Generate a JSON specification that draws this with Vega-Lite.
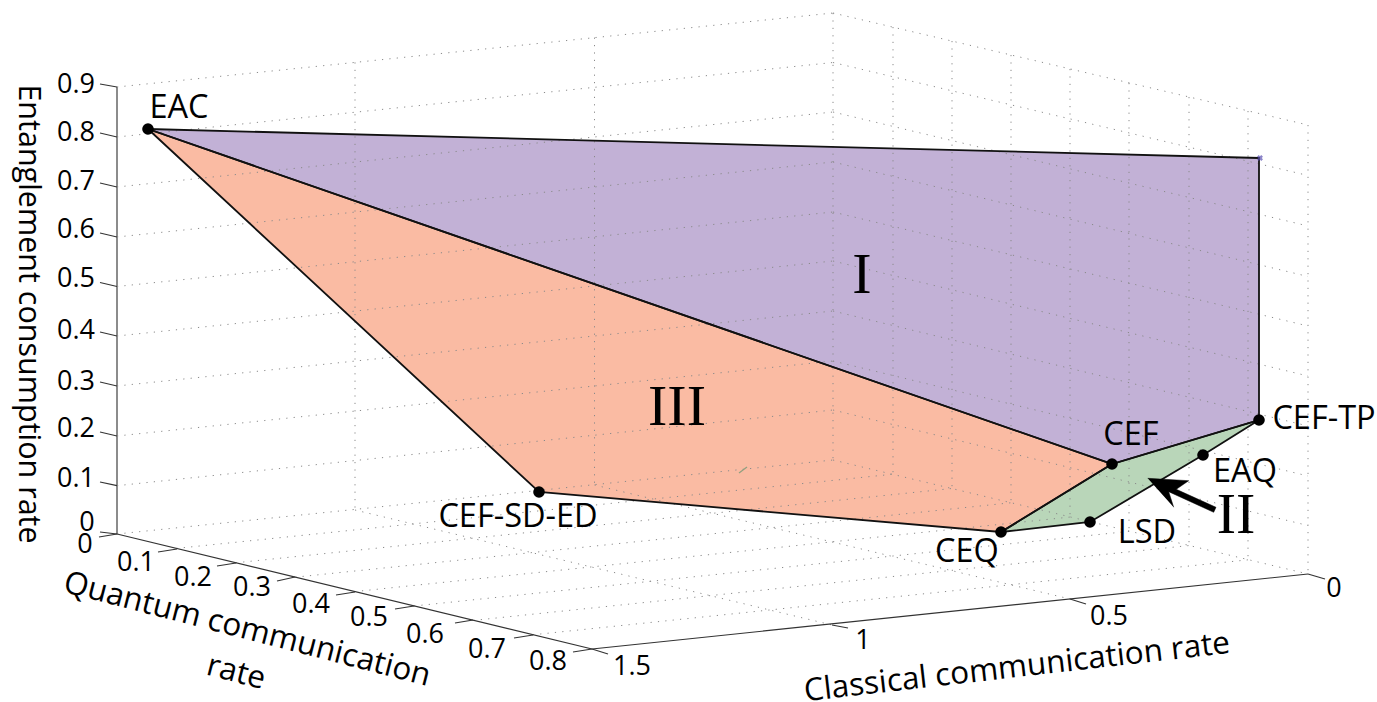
{"$schema":"https://vega.github.io/schema/vega-lite/v6.json","width":1377,"height":702,"padding":0,"autosize":{"type":"none"},"background":"white","config":{"view":{"stroke":null}},
"datasets":{
"regions":[
{"region":"I","i":0,"sx":148,"sy":129},{"region":"I","i":1,"sx":1259,"sy":158},{"region":"I","i":2,"sx":1259,"sy":420},{"region":"I","i":3,"sx":1112,"sy":464},{"region":"I","i":4,"sx":148,"sy":129},
{"region":"III","i":0,"sx":148,"sy":129},{"region":"III","i":1,"sx":1112,"sy":464},{"region":"III","i":2,"sx":1001,"sy":532},{"region":"III","i":3,"sx":539,"sy":492},{"region":"III","i":4,"sx":148,"sy":129},
{"region":"II","i":0,"sx":1112,"sy":464},{"region":"II","i":1,"sx":1259,"sy":420},{"region":"II","i":2,"sx":1203,"sy":455},{"region":"II","i":3,"sx":1090,"sy":522},{"region":"II","i":4,"sx":1001,"sy":532},{"region":"II","i":5,"sx":1112,"sy":464}],
"grid":[
{"g":"L0","i":0,"sx":117,"sy":534},{"g":"L0","i":1,"sx":833,"sy":460},{"g":"L1","i":0,"sx":117,"sy":485.7},{"g":"L1","i":1,"sx":833,"sy":410},{"g":"L2","i":0,"sx":117,"sy":436},{"g":"L2","i":1,"sx":833,"sy":361},{"g":"L3","i":0,"sx":117,"sy":386},{"g":"L3","i":1,"sx":833,"sy":311},{"g":"L4","i":0,"sx":117,"sy":336},{"g":"L4","i":1,"sx":833,"sy":261},{"g":"L5","i":0,"sx":117,"sy":286.5},{"g":"L5","i":1,"sx":833,"sy":212},{"g":"L6","i":0,"sx":117,"sy":237},{"g":"L6","i":1,"sx":833,"sy":162},{"g":"L7","i":0,"sx":117,"sy":187},{"g":"L7","i":1,"sx":833,"sy":112},{"g":"L8","i":0,"sx":117,"sy":137},{"g":"L8","i":1,"sx":833,"sy":62.5},{"g":"L9","i":0,"sx":117,"sy":87},{"g":"L9","i":1,"sx":833,"sy":13},
{"g":"R0","i":0,"sx":833,"sy":460},{"g":"R0","i":1,"sx":1308,"sy":574},{"g":"R1","i":0,"sx":833,"sy":410},{"g":"R1","i":1,"sx":1308,"sy":525.5},{"g":"R2","i":0,"sx":833,"sy":361},{"g":"R2","i":1,"sx":1308,"sy":476},{"g":"R3","i":0,"sx":833,"sy":311},{"g":"R3","i":1,"sx":1308,"sy":426},{"g":"R4","i":0,"sx":833,"sy":261},{"g":"R4","i":1,"sx":1308,"sy":376},{"g":"R5","i":0,"sx":833,"sy":212},{"g":"R5","i":1,"sx":1308,"sy":326},{"g":"R6","i":0,"sx":833,"sy":162},{"g":"R6","i":1,"sx":1308,"sy":276.5},{"g":"R7","i":0,"sx":833,"sy":112},{"g":"R7","i":1,"sx":1308,"sy":226},{"g":"R8","i":0,"sx":833,"sy":62.5},{"g":"R8","i":1,"sx":1308,"sy":175.5},{"g":"R9","i":0,"sx":833,"sy":13},{"g":"R9","i":1,"sx":1308,"sy":125},
{"g":"V1","i":0,"sx":355,"sy":62.4},{"g":"V1","i":1,"sx":355,"sy":510},{"g":"V2","i":0,"sx":594.5,"sy":37.6},{"g":"V2","i":1,"sx":594.5,"sy":485},{"g":"V3","i":0,"sx":833,"sy":13},{"g":"V3","i":1,"sx":833,"sy":460},
{"g":"W1","i":0,"sx":893,"sy":27},{"g":"W1","i":1,"sx":893,"sy":474},{"g":"W2","i":0,"sx":952,"sy":41},{"g":"W2","i":1,"sx":952,"sy":488.5},{"g":"W3","i":0,"sx":1011,"sy":55},{"g":"W3","i":1,"sx":1011,"sy":503},{"g":"W4","i":0,"sx":1070,"sy":69},{"g":"W4","i":1,"sx":1070,"sy":517},{"g":"W5","i":0,"sx":1129,"sy":83},{"g":"W5","i":1,"sx":1129,"sy":531},{"g":"W6","i":0,"sx":1189,"sy":97},{"g":"W6","i":1,"sx":1189,"sy":545.5},{"g":"W7","i":0,"sx":1248,"sy":111},{"g":"W7","i":1,"sx":1248,"sy":560},{"g":"W8","i":0,"sx":1308,"sy":125},{"g":"W8","i":1,"sx":1308,"sy":574},
{"g":"F1","i":0,"sx":176.4,"sy":548.4},{"g":"F1","i":1,"sx":892.4,"sy":474.25},{"g":"F2","i":0,"sx":235.8,"sy":562.8},{"g":"F2","i":1,"sx":951.8,"sy":488.5},{"g":"F3","i":0,"sx":295.2,"sy":577.2},{"g":"F3","i":1,"sx":1011.2,"sy":502.75},{"g":"F4","i":0,"sx":354.6,"sy":591.6},{"g":"F4","i":1,"sx":1070.6,"sy":517},{"g":"F5","i":0,"sx":414,"sy":606},{"g":"F5","i":1,"sx":1130,"sy":531.25},{"g":"F6","i":0,"sx":473.4,"sy":620.4},{"g":"F6","i":1,"sx":1189.4,"sy":545.5},{"g":"F7","i":0,"sx":532.8,"sy":634.8},{"g":"F7","i":1,"sx":1248.8,"sy":559.75},
{"g":"C1","i":0,"sx":355,"sy":510},{"g":"C1","i":1,"sx":832,"sy":625},{"g":"C2","i":0,"sx":594.5,"sy":485},{"g":"C2","i":1,"sx":1070,"sy":599}],
"axes":[
{"g":"q","i":0,"sx":117,"sy":534},{"g":"q","i":1,"sx":592,"sy":649},{"g":"c","i":0,"sx":592,"sy":649},{"g":"c","i":1,"sx":1308,"sy":574},
{"g":"z0","i":0,"sx":100,"sy":532},{"g":"z0","i":1,"sx":117,"sy":534},{"g":"z1","i":0,"sx":100,"sy":482},{"g":"z1","i":1,"sx":117,"sy":485.7},{"g":"z2","i":0,"sx":100,"sy":432},{"g":"z2","i":1,"sx":117,"sy":436},{"g":"z3","i":0,"sx":100,"sy":382},{"g":"z3","i":1,"sx":117,"sy":386},{"g":"z4","i":0,"sx":100,"sy":332},{"g":"z4","i":1,"sx":117,"sy":336},{"g":"z5","i":0,"sx":100,"sy":282.5},{"g":"z5","i":1,"sx":117,"sy":286.5},{"g":"z6","i":0,"sx":100,"sy":233},{"g":"z6","i":1,"sx":117,"sy":237},{"g":"z7","i":0,"sx":100,"sy":183},{"g":"z7","i":1,"sx":117,"sy":187},{"g":"z8","i":0,"sx":100,"sy":133},{"g":"z8","i":1,"sx":117,"sy":137},{"g":"z9","i":0,"sx":100,"sy":84},{"g":"z9","i":1,"sx":117,"sy":87},
{"g":"q0","i":0,"sx":99,"sy":537},{"g":"q0","i":1,"sx":117,"sy":534},{"g":"q1","i":0,"sx":158,"sy":552},{"g":"q1","i":1,"sx":177,"sy":549},{"g":"q2","i":0,"sx":217,"sy":566},{"g":"q2","i":1,"sx":236,"sy":563},{"g":"q3","i":0,"sx":277,"sy":581},{"g":"q3","i":1,"sx":295,"sy":577},{"g":"q4","i":0,"sx":336,"sy":595},{"g":"q4","i":1,"sx":355,"sy":592},{"g":"q5","i":0,"sx":395,"sy":609},{"g":"q5","i":1,"sx":414,"sy":606},{"g":"q6","i":0,"sx":455,"sy":623},{"g":"q6","i":1,"sx":473,"sy":620},{"g":"q7","i":0,"sx":514,"sy":638},{"g":"q7","i":1,"sx":533,"sy":635},{"g":"q8","i":0,"sx":573,"sy":652},{"g":"q8","i":1,"sx":592,"sy":649},
{"g":"c0","i":0,"sx":592,"sy":649},{"g":"c0","i":1,"sx":608,"sy":654},{"g":"c1","i":0,"sx":832,"sy":625},{"g":"c1","i":1,"sx":848,"sy":628},{"g":"c2","i":0,"sx":1070,"sy":599},{"g":"c2","i":1,"sx":1086,"sy":604},{"g":"c3","i":0,"sx":1308,"sy":574},{"g":"c3","i":1,"sx":1325,"sy":579}],
"zaxis":[{"i":0,"sx":117,"sy":87},{"i":1,"sx":117,"sy":534}],
"scratch":[{"i":0,"sx":739,"sy":473},{"i":1,"sx":747,"sy":467}],
"arrow":[{"i":0,"sx":1147.7,"sy":478.3},{"i":1,"sx":1188.7,"sy":480.7},{"i":2,"sx":1176.3,"sy":489.3},{"i":3,"sx":1216,"sy":507.3},{"i":4,"sx":1213.7,"sy":512.3},{"i":5,"sx":1168.7,"sy":491.7},{"i":6,"sx":1173.7,"sy":507.3}],
"points":[{"name":"EAC","sx":148,"sy":129},{"name":"CEF-SD-ED","sx":539,"sy":492},{"name":"CEQ","sx":1001,"sy":532},{"name":"LSD","sx":1090,"sy":522},{"name":"EAQ","sx":1203,"sy":455},{"name":"CEF","sx":1112,"sy":464},{"name":"CEF-TP","sx":1259,"sy":420}],
"labels":[{"t":"EAC","sx":179,"sy":108},{"t":"CEF-SD-ED","sx":518,"sy":517},{"t":"CEQ","sx":967,"sy":552},{"t":"LSD","sx":1147,"sy":533},{"t":"EAQ","sx":1245,"sy":472},{"t":"CEF","sx":1131,"sy":435},{"t":"CEF-TP","sx":1324,"sy":419}],
"roman":[{"t":"I","sx":862,"sy":276},{"t":"III","sx":677,"sy":408},{"t":"II","sx":1236,"sy":516}],
"ticks":[{"t":"0.9","sx":76,"sy":85},{"t":"0.8","sx":76,"sy":133},{"t":"0.7","sx":76,"sy":182},{"t":"0.6","sx":76,"sy":230},{"t":"0.5","sx":76,"sy":279},{"t":"0.4","sx":76,"sy":331},{"t":"0.3","sx":76,"sy":382},{"t":"0.2","sx":76,"sy":429},{"t":"0.1","sx":76,"sy":479},{"t":"0","sx":87,"sy":523},
{"t":"0","sx":85,"sy":545},{"t":"0.1","sx":136,"sy":563},{"t":"0.2","sx":193,"sy":578},{"t":"0.3","sx":252,"sy":588},{"t":"0.4","sx":311,"sy":605},{"t":"0.5","sx":369,"sy":618},{"t":"0.6","sx":425,"sy":635},{"t":"0.7","sx":487,"sy":650},{"t":"0.8","sx":548,"sy":662},
{"t":"1.5","sx":632,"sy":667},{"t":"1","sx":863,"sy":641},{"t":"0.5","sx":1109,"sy":617},{"t":"0","sx":1334,"sy":589}]
},
"encoding":{"x":{"field":"sx","type":"quantitative","axis":null,"scale":{"domain":[0,1377],"nice":false,"zero":false}},"y":{"field":"sy","type":"quantitative","axis":null,"scale":{"domain":[702,0],"nice":false,"zero":false}}},
"layer":[
{"data":{"name":"regions"},"mark":{"type":"line","stroke":"transparent","strokeWidth":0},"encoding":{"order":{"field":"i"},"fill":{"field":"region","type":"nominal","legend":null,"scale":{"domain":["I","II","III"],"range":["#c2b1d6","#b9d6b9","#fabba3"]}}}},
{"data":{"name":"grid"},"mark":{"type":"line","stroke":"#8a8a8a","strokeWidth":1,"strokeDash":[1.2,6.2]},"encoding":{"order":{"field":"i"},"detail":{"field":"g"}}},
{"data":{"name":"zaxis"},"mark":{"type":"line","stroke":"#8c8c8c","strokeWidth":2},"encoding":{"order":{"field":"i"}}},
{"data":{"name":"axes"},"mark":{"type":"line","stroke":"#333333","strokeWidth":1.2},"encoding":{"order":{"field":"i"},"detail":{"field":"g"}}},
{"data":{"name":"scratch"},"mark":{"type":"line","stroke":"#8f9f7f","strokeWidth":1.2},"encoding":{"order":{"field":"i"}}},
{"data":{"name":"regions"},"mark":{"type":"line","stroke":"#111111","strokeWidth":1.8},"encoding":{"order":{"field":"i"},"detail":{"field":"region"}}},
{"data":{"name":"arrow"},"mark":{"type":"line","fill":"black","stroke":"black","strokeWidth":0.5},"encoding":{"order":{"field":"i"}}},
{"data":{"values":[{"sx":1260,"sy":158}]},"mark":{"type":"point","shape":"cross","angle":45,"size":36,"filled":true,"fill":"#5a50b0","stroke":null},"encoding":{}},
{"data":{"name":"points"},"mark":{"type":"circle","size":135,"color":"black","opacity":1},"encoding":{}},
{"data":{"name":"labels"},"mark":{"type":"text","font":"Open Sans","fontSize":32.5,"align":"center","baseline":"middle","color":"black"},"encoding":{"text":{"field":"t"}}},
{"data":{"name":"ticks"},"mark":{"type":"text","font":"Open Sans","fontSize":27,"align":"center","baseline":"middle","color":"black"},"encoding":{"text":{"field":"t"}}},
{"data":{"name":"roman"},"mark":{"type":"text","font":"Liberation Serif","fontSize":58,"align":"center","baseline":"middle","color":"black"},"encoding":{"text":{"field":"t"}}},
{"data":{"values":[{"t":"Entanglement consumption rate","sx":28,"sy":314}]},"mark":{"type":"text","font":"Open Sans","fontSize":30.5,"angle":90,"align":"center","baseline":"middle","color":"black"},"encoding":{"text":{"field":"t"}}},
{"data":{"values":[{"t":"Quantum communication","sx":247,"sy":630}]},"mark":{"type":"text","font":"Open Sans","fontSize":31.5,"angle":14.5,"align":"center","baseline":"middle","color":"black"},"encoding":{"text":{"field":"t"}}},
{"data":{"values":[{"t":"rate","sx":236,"sy":673}]},"mark":{"type":"text","font":"Open Sans","fontSize":31.5,"angle":14.5,"align":"center","baseline":"middle","color":"black"},"encoding":{"text":{"field":"t"}}},
{"data":{"values":[{"t":"Classical communication rate","sx":1017,"sy":668}]},"mark":{"type":"text","font":"Open Sans","fontSize":31.5,"angle":-6.5,"align":"center","baseline":"middle","color":"black"},"encoding":{"text":{"field":"t"}}}
]}
